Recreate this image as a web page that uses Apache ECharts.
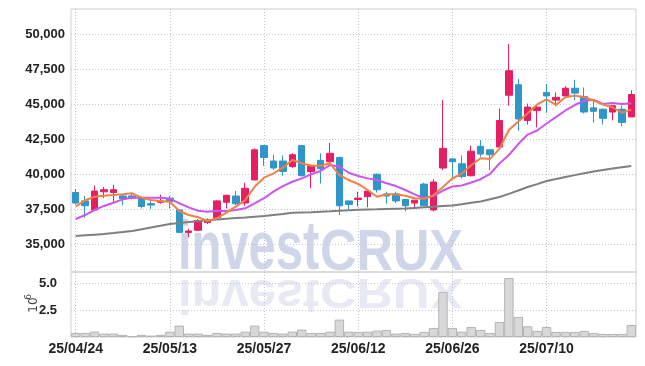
<!DOCTYPE html>
<html>
<head>
<meta charset="utf-8">
<script src="https://cdn.jsdelivr.net/npm/echarts@6/dist/echarts.min.js"></script>
<style>
  html, body { margin: 0; padding: 0; background: #fff; }
  #chart { width: 645px; height: 366px; }
</style>
</head>
<body>
<div id="chart"></div>
<script>
var dates = ["25/04/24", "25/04/25", "25/04/28", "25/04/29", "25/04/30", "25/05/02", "25/05/07", "25/05/08", "25/05/09", "25/05/12",
  "25/05/13", "25/05/14", "25/05/15", "25/05/16", "25/05/19", "25/05/20", "25/05/21", "25/05/22", "25/05/23", "25/05/26",
  "25/05/27", "25/05/28", "25/05/29", "25/05/30", "25/06/02", "25/06/04", "25/06/05", "25/06/09", "25/06/10", "25/06/11",
  "25/06/12", "25/06/13", "25/06/16", "25/06/17", "25/06/18", "25/06/19", "25/06/20", "25/06/23", "25/06/24", "25/06/25",
  "25/06/26", "25/06/27", "25/06/30", "25/07/01", "25/07/02", "25/07/03", "25/07/04", "25/07/07", "25/07/08", "25/07/09",
  "25/07/10", "25/07/11", "25/07/14", "25/07/15", "25/07/16", "25/07/17", "25/07/18", "25/07/21", "25/07/22", "25/07/23"];

var opens = [38700, 38100, 37450, 38750, 38700, 38450, 38450, 38300, 37900, 38000,
  38300, 37450, 35850, 36000, 36550, 36900, 38000, 38450, 37950, 39600,
  42050, 40950, 40950, 40550, 42050, 40200, 41000, 40900, 41200, 38100,
  38200, 38400, 40000, 38600, 38600, 38200, 37950, 39300, 37450, 40450,
  41100, 40750, 39900, 42000, 41750, 41950, 45650, 46400, 43850, 44550,
  45850, 45300, 45600, 46150, 45550, 44750, 44650, 44450, 44650, 44100];
var closes = [37950, 37750, 38800, 38900, 38900, 38250, 38300, 37700, 37800, 38100,
  38050, 35850, 35950, 36700, 36700, 38100, 38500, 37900, 39000, 41750,
  41200, 40450, 40200, 41400, 39900, 40600, 40400, 41500, 37750, 37850,
  38300, 38800, 38900, 38450, 38100, 37750, 38150, 37750, 39450, 41850,
  40900, 39850, 41650, 41450, 41400, 43850, 47400, 43950, 44800, 44800,
  45600, 45500, 46150, 45800, 44450, 44500, 44000, 44900, 43700, 45700];
var lows = [37850, 36900, 37450, 38300, 38000, 37800, 38200, 37550, 37500, 37900,
  37550, 35800, 35500, 36000, 36450, 36750, 37550, 37800, 37750, 39550,
  40600, 40300, 39900, 40450, 39850, 39000, 39350, 40800, 37100, 37500,
  37700, 37650, 38700, 37900, 37950, 37350, 37550, 37700, 37350, 40300,
  39750, 39700, 39850, 41250, 40300, 41900, 44900, 43100, 43550, 43350,
  44400, 44850, 45450, 45300, 44350, 43700, 43550, 43850, 43450, 44100];
var highs = [38950, 38450, 39200, 39100, 39250, 38600, 38600, 38400, 38100, 38550,
  38450, 37500, 36100, 36800, 36850, 38150, 38550, 38800, 39400, 41850,
  42100, 41400, 41350, 41500, 42100, 40700, 41500, 42250, 41250, 38100,
  38750, 38800, 40050, 38750, 38750, 38200, 38150, 39400, 39650, 45300,
  41150, 41350, 42050, 42450, 41750, 44700, 49300, 46800, 45050, 45000,
  46450, 45850, 46300, 46750, 46200, 45300, 44700, 44900, 44900, 46000];

var maShort = [37700, 38150, 38400, 38470, 38520, 38570, 38640, 38330, 38160, 38090,
  38040, 37380, 37090, 36930, 36660, 36860, 37260, 37690, 38160, 39110,
  39760, 40070, 40470, 41020, 40790, 40610, 40610, 40790, 39950, 39590,
  39310, 38880, 38400, 38570, 38570, 38470, 38290, 38250, 38500, 39100,
  39700, 40050, 40650, 41150, 41100, 41820, 43160, 43770, 44360, 44990,
  45360, 44950, 45500, 45620, 45520, 45270, 44980, 44790, 44400, 44620];
var maMid = [36810, 37090, 37450, 37740, 37970, 38210, 38330, 38330, 38330, 38330,
  38260, 37930, 37640, 37400, 37330, 37400, 37380, 37450, 37570, 37930,
  38290, 38760, 39160, 39470, 39710, 40000, 40240, 40660, 40540, 40110,
  39880, 39710, 39590, 39360, 39160, 38880, 38570, 38290, 38460, 38840,
  39130, 39200, 39410, 39650, 40030, 40770, 41380, 42160, 42840, 43130,
  43630, 44090, 44560, 44950, 45270, 45310, 45020, 45090, 45020, 45070];
var maLong = [35590, 35640, 35690, 35740, 35800, 35870, 35950, 36070, 36200, 36320,
  36450, 36520, 36590, 36650, 36710, 36770, 36820, 36870, 36910, 36970,
  37020, 37100, 37170, 37250, 37270, 37290, 37330, 37360, 37400, 37440,
  37470, 37490, 37500, 37520, 37540, 37560, 37600, 37640, 37690, 37730,
  37770, 37860, 37960, 38060, 38220, 38380, 38600, 38840, 39090, 39300,
  39520, 39660, 39810, 39940, 40070, 40200, 40310, 40410, 40500, 40590];

// volume, in millions (10^6)
var volumes = [0.38, 0.38, 0.5, 0.32, 0.32, 0.2, 0.07, 0.2, 0.13, 0.2,
  0.5, 1.07, 0.32, 0.32, 0.2, 0.38, 0.32, 0.32, 0.5, 1.07,
  0.5, 0.38, 0.32, 0.5, 0.69, 0.38, 0.38, 0.5, 1.63, 0.5,
  0.48, 0.5, 0.6, 0.66, 0.32, 0.38, 0.29, 0.48, 0.85, 4.22,
  0.85, 0.5, 0.94, 0.66, 0.38, 1.41, 5.53, 1.88, 1.0, 0.57,
  0.94, 0.48, 0.48, 0.48, 0.57, 0.38, 0.29, 0.29, 0.29, 1.13];

var priceTicks = [35000, 37500, 40000, 42500, 45000, 47500, 50000];
var volumeTicks = [2.5, 5.0];

var upColor = "#e61e64";
var downColor = "#2e96c8";
var labelFont = '"Liberation Sans", sans-serif';

var candleData = [];
for (var i = 0; i < dates.length; i++) {
  candleData.push([opens[i], closes[i], lows[i], highs[i]]);
}

// watermark text, drawn from its baseline (sy < 0 gives the reflection)
function markText(txt, x, fs, sx, fill, base, sy, op) {
  return {
    type: "text",
    x: x,
    y: base,
    scaleX: sx,
    scaleY: sy,
    z: 0,
    silent: true,
    style: {
      text: txt,
      x: 0,
      y: -0.35 * fs,
      verticalAlign: "middle",
      font: "bold " + fs + 'px "Liberation Sans", sans-serif',
      fill: fill,
      opacity: op
    }
  };
}

var vSplit = { show: true, interval: 9, alignWithLabel: true, lineStyle: { color: "#bcc4dc", type: [1, 2] } };

var option = {
  animation: false,
  backgroundColor: "#fff",
  graphic: [
    markText("invest", 178, 66, 0.74, "#d0d6e9", 274, 1.05, 1),
    markText("CRUX", 320, 58, 0.87, "#d0d6e9", 274, 1, 1),
    markText("invest", 178, 66, 0.74, "#d0d6e9", 276, -0.72, 0.5),
    markText("CRUX", 320, 58, 0.87, "#d0d6e9", 276, -0.72, 0.5),
    {
      type: "text", x: 34, y: 305, rotation: Math.PI / 2, silent: true,
      style: { text: "10", font: '12px "DejaVu Sans", sans-serif', fill: "#444", align: "center", verticalAlign: "middle" }
    },
    {
      type: "text", x: 28.5, y: 297, rotation: Math.PI / 2, silent: true,
      style: { text: "6", font: '9px "DejaVu Sans", sans-serif', fill: "#444", align: "center", verticalAlign: "middle" }
    }
  ],
  grid: [
    { left: 71, width: 565, top: 9, height: 263, show: true, borderColor: "#d0d0d0", borderWidth: 1 },
    { left: 71, width: 565, top: 272, height: 65, show: true, borderColor: "#d0d0d0", borderWidth: 1 }
  ],
  xAxis: [
    {
      type: "category", gridIndex: 0, data: dates, boundaryGap: true,
      axisLine: { show: false }, axisTick: { show: false }, axisLabel: { show: false },
      splitLine: vSplit
    },
    {
      type: "category", gridIndex: 1, data: dates, boundaryGap: true,
      axisLine: { show: false }, axisTick: { show: false },
      axisLabel: { interval: 9, margin: 5, color: "#222", fontSize: 14, fontWeight: "bold", fontFamily: labelFont },
      splitLine: vSplit
    }
  ],
  yAxis: [
    {
      type: "value", gridIndex: 0, min: 33020, max: 51810, scale: true,
      axisLine: { show: false },
      axisTick: { show: false, customValues: priceTicks },
      axisLabel: {
        customValues: priceTicks, margin: 6, color: "#222", fontSize: 13, fontWeight: "bold", fontFamily: labelFont,
        formatter: function (v) { return v.toLocaleString("en-US"); }
      },
      splitLine: { show: true, lineStyle: { color: "#c4c8d8", type: [1, 2] } }
    },
    {
      type: "value", gridIndex: 1, min: 0, max: 6.09,
      axisLine: { show: false },
      axisTick: { show: false, customValues: volumeTicks },
      axisLabel: {
        customValues: volumeTicks, margin: 14, color: "#222", fontSize: 13, fontWeight: "bold", fontFamily: labelFont,
        formatter: function (v) { return v.toFixed(1); }
      },
      splitLine: { show: true, lineStyle: { color: "#c4c8d8", type: [1, 2] } }
    }
  ],
  series: [
    {
      name: "price", type: "candlestick", xAxisIndex: 0, yAxisIndex: 0, data: candleData, barWidth: 7,
      itemStyle: { color: upColor, color0: downColor, borderColor: upColor, borderColor0: downColor, borderWidth: 1 }
    },
    {
      name: "ma long", type: "line", xAxisIndex: 0, yAxisIndex: 0, data: maLong, symbol: "none",
      lineStyle: { color: "#7f7f7f", width: 2 }, z: 3
    },
    {
      name: "ma mid", type: "line", xAxisIndex: 0, yAxisIndex: 0, data: maMid, symbol: "none",
      lineStyle: { color: "#cc55ee", width: 2 }, z: 3
    },
    {
      name: "ma short", type: "line", xAxisIndex: 0, yAxisIndex: 0, data: maShort, symbol: "none",
      lineStyle: { color: "#ee8048", width: 2 }, z: 3
    },
    {
      name: "volume", type: "bar", xAxisIndex: 1, yAxisIndex: 1, data: volumes, barCategoryGap: "0%",
      itemStyle: { color: "#d8d8d8", borderColor: "#b4b4b4", borderWidth: 1 }
    }
  ]
};

var myChart = echarts.init(document.getElementById("chart"));
myChart.setOption(option);
</script>
</body>
</html>
